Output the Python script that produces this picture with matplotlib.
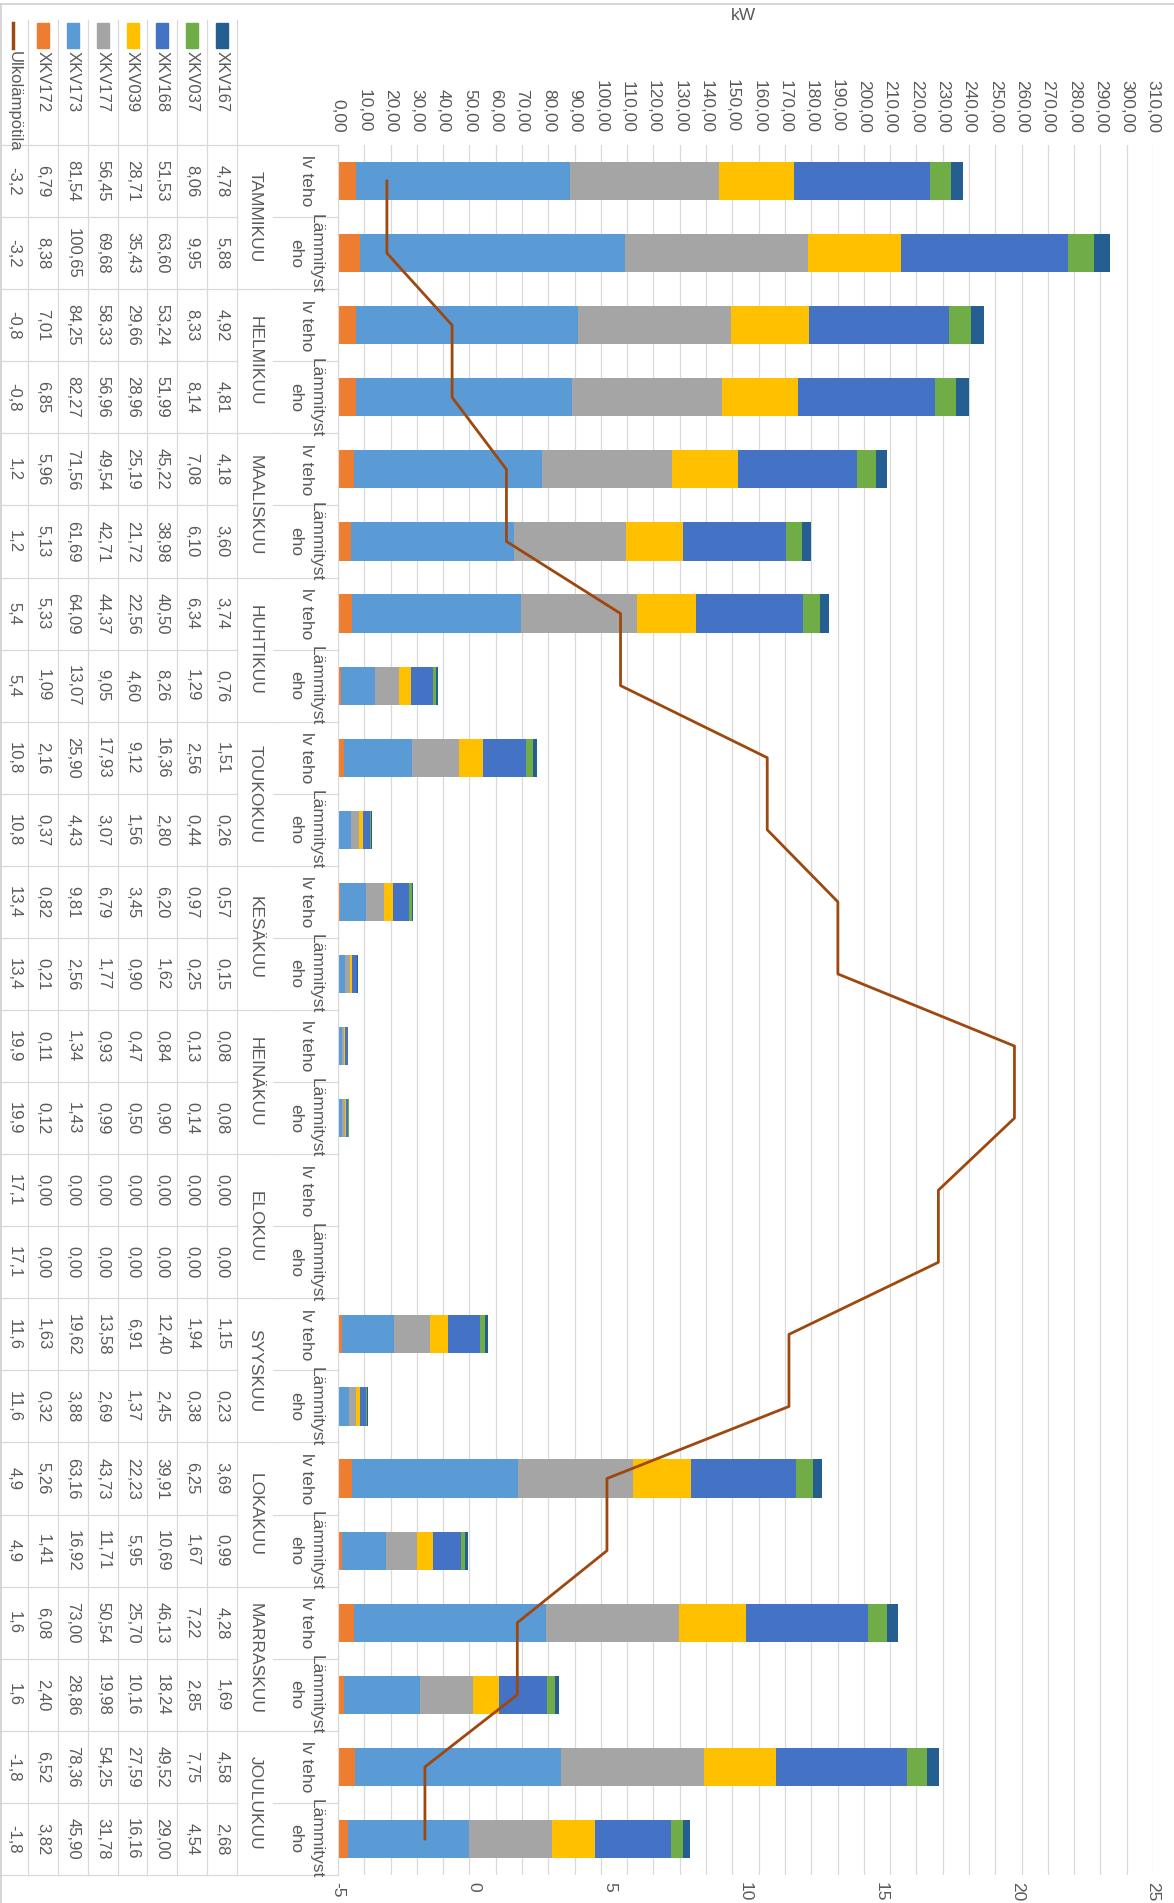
import numpy as np
import matplotlib.pyplot as plt
from matplotlib.patches import Rectangle
from matplotlib.lines import Line2D

plt.rcParams['font.family'] = ['Liberation Sans Narrow', 'Liberation Sans', 'DejaVu Sans']

# Kuukaudet ja alakategoriat
months = ['TAMMIKUU', 'HELMIKUU', 'MAALISKUU', 'HUHTIKUU', 'TOUKOKUU', 'KESÄKUU',
          'HEINÄKUU', 'ELOKUU', 'SYYSKUU', 'LOKAKUU', 'MARRASKUU', 'JOULUKUU']
sub_labels = ['lv teho', 'Lämmityst\neho']

# Sarjat (pinottu järjestys vasemmalta oikealle)
series_names = ['XKV172', 'XKV173', 'XKV177', 'XKV039', 'XKV168', 'XKV037', 'XKV167']
xkv172 = [6.79, 8.38, 7.01, 6.85, 5.96, 5.13, 5.33, 1.09, 2.16, 0.37, 0.82, 0.21,
          0.11, 0.12, 0.00, 0.00, 1.63, 0.32, 5.26, 1.41, 6.08, 2.40, 6.52, 3.82]
xkv173 = [81.54, 100.65, 84.25, 82.27, 71.56, 61.69, 64.09, 13.07, 25.90, 4.43, 9.81, 2.56,
          1.34, 1.43, 0.00, 0.00, 19.62, 3.88, 63.16, 16.92, 73.00, 28.86, 78.36, 45.90]
xkv177 = [56.45, 69.68, 58.33, 56.96, 49.54, 42.71, 44.37, 9.05, 17.93, 3.07, 6.79, 1.77,
          0.93, 0.99, 0.00, 0.00, 13.58, 2.69, 43.73, 11.71, 50.54, 19.98, 54.25, 31.78]
xkv039 = [28.71, 35.43, 29.66, 28.96, 25.19, 21.72, 22.56, 4.60, 9.12, 1.56, 3.45, 0.90,
          0.47, 0.50, 0.00, 0.00, 6.91, 1.37, 22.23, 5.95, 25.70, 10.16, 27.59, 16.16]
xkv168 = [51.53, 63.60, 53.24, 51.99, 45.22, 38.98, 40.50, 8.26, 16.36, 2.80, 6.20, 1.62,
          0.84, 0.90, 0.00, 0.00, 12.40, 2.45, 39.91, 10.69, 46.13, 18.24, 49.52, 29.00]
xkv037 = [8.06, 9.95, 8.33, 8.14, 7.08, 6.10, 6.34, 1.29, 2.56, 0.44, 0.97, 0.25,
          0.13, 0.14, 0.00, 0.00, 1.94, 0.38, 6.25, 1.67, 7.22, 2.85, 7.75, 4.54]
xkv167 = [4.78, 5.88, 4.92, 4.81, 4.18, 3.60, 3.74, 0.76, 1.51, 0.26, 0.57, 0.15,
          0.08, 0.08, 0.00, 0.00, 1.15, 0.23, 3.69, 0.99, 4.28, 1.69, 4.58, 2.68]
ulkolampotila = [-3.2, -3.2, -0.8, -0.8, 1.2, 1.2, 5.4, 5.4, 10.8, 10.8, 13.4, 13.4,
                 19.9, 19.9, 17.1, 17.1, 11.6, 11.6, 4.9, 4.9, 1.6, 1.6, -1.8, -1.8]

series_vals = [xkv172, xkv173, xkv177, xkv039, xkv168, xkv037, xkv167]
colors = ['#ED7D31', '#5B9BD5', '#A5A5A5', '#FFC000', '#4472C4', '#70AD47', '#255E91']
line_color = '#9E480E'
text_col = '#595959'
grid_col = '#D9D9D9'

kw_ticks = np.arange(0, 311, 10)
temp_ticks = np.arange(-5, 26, 5)

# Asettelu pikseleinä
W, H = 1174, 1903
pl, pr, pt, pb = 338, 1153, 145, 1875
n = len(xkv172)
cat_h = (pb - pt) / n

def cy(p):
    return (p - pt) / cat_h

fig = plt.figure(figsize=(W / 100, H / 100), dpi=100)
ax = fig.add_axes([pl / W, 1 - pb / H, (pr - pl) / W, (pb - pt) / H])

y = np.arange(n) + 0.5
left = np.zeros(n)
for name, vals, col in zip(series_names, series_vals, colors):
    ax.barh(y, vals, height=0.53, left=left, color=col, label=name, zorder=2)
    left += np.array(vals)

ax.set_ylim(n, 0)
ax.set_xlim(0, 310)
ax.set_yticks([])
ax.grid(axis='x', color=grid_col, lw=0.9)
ax.set_axisbelow(True)
for s in ['top', 'right', 'bottom']:
    ax.spines[s].set_visible(False)
ax.spines['left'].set_color(grid_col)

# Lämpötila toisella akselilla
ax2 = ax.twiny()
ax2.plot(ulkolampotila, y, color=line_color, lw=2, zorder=3)
ax2.set_xlim(-5, 25)
ax2.set_xticks(temp_ticks)
ax2.xaxis.tick_bottom()
ax2.set_xticklabels([str(t) for t in temp_ticks], rotation=-90)
ax2.tick_params(axis='x', length=0, pad=5, labelcolor=text_col, labelsize=12.5)
for s in ax2.spines.values():
    s.set_visible(False)

# kW-akseli ylös (twiny siirtää sen alas, joten asetetaan vasta nyt)
ax.xaxis.tick_top()
ax.set_xticks(kw_ticks)
ax.set_xticklabels([f'{v:.2f}'.replace('.', ',') for v in kw_ticks], rotation=-90)
ax.tick_params(axis='x', length=0, pad=9, labelcolor=text_col, labelsize=12.5)

fig.text(743 / W, 1 - 15 / H, 'kW', ha='center', va='center', color=text_col, fontsize=12.5)

# Datataulukko vasemmalla
tab = fig.add_axes([0, 1 - pb / H, pl / W, (pb - pt) / H])
tab.set_xlim(0, pl)
tab.set_ylim(n, 0)
tab.axis('off')

col_edges = [0, 28, 58, 88, 118, 147, 177, 207, 237]
month_x, sub_x = 255, 306
table_rows = [ulkolampotila] + series_vals
row_names = ['Ulkolämpötila'] + series_names

def hline(y0, x0, x1):
    tab.plot([x0, x1], [y0, y0], color=grid_col, lw=0.9, clip_on=False)

for xe in col_edges[1:]:
    tab.plot([xe, xe], [cy(20), n], color=grid_col, lw=0.9, clip_on=False)
hline(0, 0, pl)
hline(n, 0, pl)
for i in range(1, n):
    hline(i, 0, 237)
    hline(i, 273, pl)
    if i % 2 == 0:
        hline(i, 237, 273)

for j, (name, vals) in enumerate(zip(row_names, table_rows)):
    cx = (col_edges[j] + col_edges[j + 1]) / 2
    if j == 0:
        tab.plot([cx - 1, cx - 1], [cy(23), cy(48)], color=line_color, lw=2.5, clip_on=False)
        fmt = lambda v: f'{v:.1f}'.replace('.', ',')
    else:
        tab.add_patch(Rectangle((cx - 6, cy(23)), 12, cy(48) - cy(23),
                                color=colors[j - 1], clip_on=False))
        fmt = lambda v: f'{v:.2f}'.replace('.', ',')
    tab.text(cx, cy(51), name, rotation=-90, ha='center', va='top',
             color=text_col, fontsize=12, clip_on=False)
    for i, v in enumerate(vals):
        tab.text(cx, i + 0.5, fmt(v), rotation=-90, ha='center', va='center',
                 color=text_col, fontsize=12)

for k, m in enumerate(months):
    tab.text(month_x, 2 * k + 1, m, rotation=-90, ha='center', va='center',
             color=text_col, fontsize=12.5)
    for s, lab in enumerate(sub_labels):
        tab.text(sub_x, 2 * k + s + 0.5, lab, rotation=-90, ha='center', va='center',
                 color=text_col, fontsize=12.5, linespacing=1.5)

# Kaavion reunat
fig.add_artist(Line2D([0, 1], [1 - 4 / H, 1 - 4 / H], color='#D0D0D0', lw=1.2))
fig.add_artist(Line2D([1 / W, 1 / W], [0, 1 - 4 / H], color='#D0D0D0', lw=1.2))

plt.savefig('out.png', dpi=100)
